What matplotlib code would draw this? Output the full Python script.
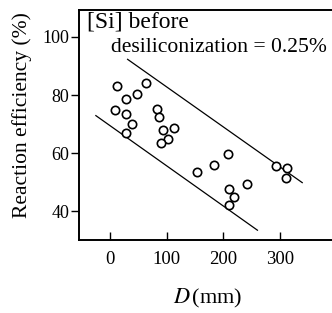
import matplotlib

matplotlib.use("Agg")
import matplotlib.pyplot as plt

# open circles: pipe/ladle diameter D (mm) vs reaction efficiency (%)
d_mm = [13, 28, 48, 63, 8, 28, 39, 28, 82, 87, 94, 112, 102, 90, 208,
        153, 183, 293, 312, 310, 209, 219, 209, 242]
efficiency = [83.1, 78.5, 80.3, 84.2, 75.0, 73.5, 70.0, 67.0, 75.3, 72.3, 68.0,
              68.7, 64.7, 63.3, 59.7, 53.6, 55.9, 55.5, 54.7, 51.5, 47.5, 44.9,
              42.0, 49.3]

# bounding lines of the scatter band
upper_x = [31, 339]
upper_y = [92.3, 49.8]
lower_x = [-25, 260]
lower_y = [72.9, 33.4]

x_ticks = [0, 100, 200, 300]
y_ticks = [40, 60, 80, 100]

plt.rcParams["font.family"] = ["Liberation Serif", "DejaVu Serif"]
plt.rcParams["mathtext.fontset"] = "stix"

fig = plt.figure(figsize=(3.32, 3.13), dpi=100)
ax = fig.add_axes([0.238, 0.233, 0.762, 0.735])

ax.plot(upper_x, upper_y, color="black", linewidth=0.9)
ax.plot(lower_x, lower_y, color="black", linewidth=0.9)
ax.plot(d_mm, efficiency, linestyle="none", marker="o", markersize=6,
        markerfacecolor="white", markeredgecolor="black", markeredgewidth=1.2)

ax.set_xlim(-54.7, 391.5)
ax.set_ylim(30, 109.3)
ax.set_xticks(x_ticks)
ax.set_yticks(y_ticks)
ax.tick_params(axis="x", direction="in", length=6, width=1.0, labelsize=13.5, pad=8)
ax.tick_params(axis="y", direction="out", length=6, width=1.0, labelsize=13, pad=1)

for side in ("left", "bottom", "top"):
    ax.spines[side].set_linewidth(1.4)
ax.spines["right"].set_visible(False)

ax.set_ylabel("Reaction efficiency (%)", fontsize=15.5)
ax.yaxis.set_label_coords(-0.185, 0.543)
ax.set_xlabel("$D\\,$(mm)", fontsize=16)
ax.xaxis.set_label_coords(0.51, -0.205)

ax.text(0.03, 0.948, "[Si] before", transform=ax.transAxes,
        fontsize=17, ha="left", va="center")
ax.text(0.128, 0.835, "desiliconization = 0.25%", transform=ax.transAxes,
        fontsize=15.6, ha="left", va="center")

fig.savefig("out.png", dpi=100)
